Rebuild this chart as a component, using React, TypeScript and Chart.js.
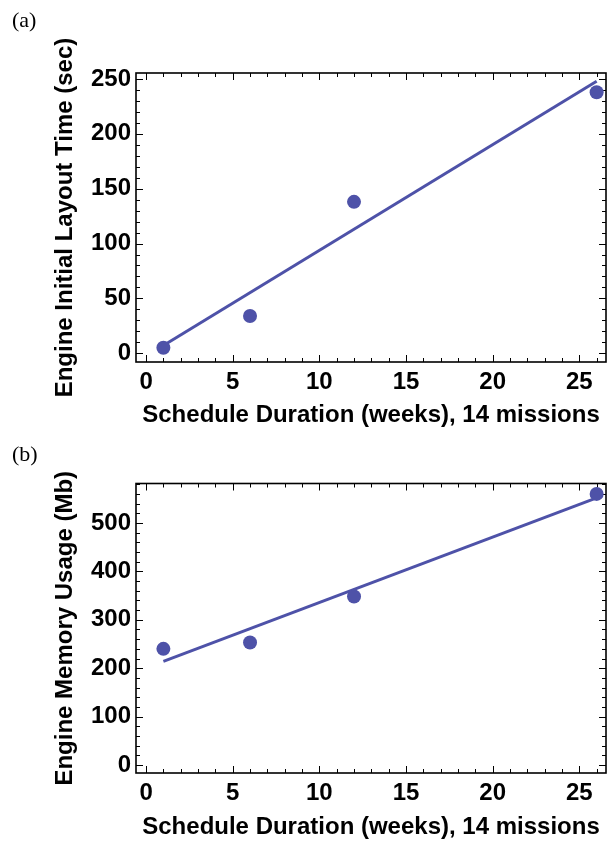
import React, { useEffect, useRef } from "react";
import { Chart, registerables } from "chart.js";

Chart.register(...registerables);

// ---- data ----
const weeks = [1, 6, 12, 26];
const layoutTimeSec = [5, 34, 138, 238];
const memoryMb = [240, 253, 348, 560];

const fitWeeks = [1, 26];
const layoutTimeFit = [7, 248];
const memoryFit = [214, 552];

// ---- axes ----
const xTickLabels = ["0", "5", "10", "15", "20", "25"];
const yTickLabelsA = ["0", "50", "100", "150", "200", "250"];
const yTickLabelsB = ["0", "100", "200", "300", "400", "500"];

const xRange = [-0.58, 26.54];
const yRangeA = [-8, 255.5];
const yRangeB = [-16.5, 581.5];

const xMinorStep = 1;
const yMinorStepA = 10;
const yMinorStepB = 20;

const xTitle = "Schedule Duration (weeks), 14 missions";
const yTitleA = "Engine Initial Layout Time (sec)";
const yTitleB = "Engine Memory Usage (Mb)";

const COLOR = "#4E52A8";
const FONT_FAMILY = "'Liberation Sans', Arial, Helvetica, sans-serif";

const frameTicks = {
  id: "frameTicks",
  beforeDatasetsDraw(chart: any, _args: any, opts: any) {
    const { ctx, chartArea } = chart;
    const { left, right, top, bottom } = chartArea;
    const xs = chart.scales.x;
    const ys = chart.scales.y;
    ctx.save();
    ctx.strokeStyle = "#000";
    ctx.lineWidth = 1;
    const isMajor = (v: number, majors: number[]) =>
      majors.some((m) => Math.abs(m - v) < 1e-6);
    const line = (x1: number, y1: number, x2: number, y2: number) => {
      ctx.beginPath();
      ctx.moveTo(x1, y1);
      ctx.lineTo(x2, y2);
      ctx.stroke();
    };
    const MAJ = 7;
    const MIN = 4;
    for (let v = Math.ceil(xs.min / opts.xStep) * opts.xStep; v <= xs.max + 1e-9; v += opts.xStep) {
      const px = Math.round(xs.getPixelForValue(v)) + 0.5;
      const len = isMajor(v, opts.xMajor) ? MAJ : MIN;
      line(px, bottom, px, bottom - len);
      line(px, top, px, top + len);
    }
    for (let v = Math.ceil(ys.min / opts.yStep) * opts.yStep; v <= ys.max + 1e-9; v += opts.yStep) {
      const py = Math.round(ys.getPixelForValue(v)) + 0.5;
      const len = isMajor(v, opts.yMajor) ? MAJ : MIN;
      line(left, py, left + len, py);
      line(right, py, right - len, py);
    }
    ctx.lineWidth = 1.6;
    ctx.strokeRect(left, top, right - left, bottom - top);
    ctx.restore();
  },
};

type PanelProps = {
  top: number;
  height: number;
  padTop: number;
  xAxisHeight: number;
  points: number[];
  fit: number[];
  yTicks: string[];
  yRange: number[];
  yStep: number;
  yTitle: string;
};

function Panel(p: PanelProps) {
  const ref = useRef<HTMLCanvasElement | null>(null);
  useEffect(() => {
    if (!ref.current) return;
    const tickFont = { family: FONT_FAMILY, weight: "bold" as const, size: 24 };
    const titleFont = { family: FONT_FAMILY, weight: "bold" as const, size: 24 };
    const chart = new Chart(ref.current, {
      type: "scatter",
      data: {
        datasets: [
          {
            data: weeks.map((x, i) => ({ x, y: p.points[i] })),
            backgroundColor: COLOR,
            borderColor: COLOR,
            pointRadius: 7,
            pointBorderWidth: 0,
            order: 0,
          },
          {
            data: fitWeeks.map((x, i) => ({ x, y: p.fit[i] })),
            showLine: true,
            borderColor: COLOR,
            borderWidth: 3,
            pointRadius: 0,
            fill: false,
            order: 1,
          } as any,
        ],
      },
      options: {
        animation: false,
        responsive: false,
        layout: { padding: { top: p.padTop, right: 10, left: 0, bottom: 0 } },
        plugins: {
          legend: { display: false },
          tooltip: { enabled: false },
          frameTicks: {
            xStep: xMinorStep,
            xMajor: xTickLabels.map(Number),
            yStep: p.yStep,
            yMajor: p.yTicks.map(Number),
          },
        } as any,
        scales: {
          x: {
            type: "linear",
            position: "bottom",
            min: xRange[0],
            max: xRange[1],
            afterBuildTicks: (s: any) => {
              s.ticks = xTickLabels.map((t) => ({ value: Number(t) }));
            },
            afterFit: (s: any) => {
              s.height = p.xAxisHeight;
            },
            ticks: {
              font: tickFont,
              color: "#000",
              padding: 6,
              maxRotation: 0,
              autoSkip: false,
              callback: (v: any) => String(v),
            },
            grid: { display: false, drawTicks: false },
            border: { display: false },
            title: {
              display: true,
              text: xTitle,
              font: titleFont,
              color: "#000",
              padding: { top: 0, bottom: 0 },
            },
          },
          y: {
            type: "linear",
            position: "left",
            min: p.yRange[0],
            max: p.yRange[1],
            afterBuildTicks: (s: any) => {
              s.ticks = p.yTicks.map((t) => ({ value: Number(t) }));
            },
            afterFit: (s: any) => {
              s.width = 136;
            },
            ticks: {
              font: tickFont,
              color: "#000",
              padding: 5,
              autoSkip: false,
              callback: (v: any) => String(v),
            },
            grid: { display: false, drawTicks: false },
            border: { display: false },
            title: {
              display: true,
              text: p.yTitle,
              font: titleFont,
              color: "#000",
              padding: { top: 51, bottom: 0 },
            },
          },
        },
      },
      plugins: [frameTicks],
    } as any);
    return () => chart.destroy();
  }, []);
  return (
    <canvas
      ref={ref}
      width={616}
      height={p.height}
      style={{ position: "absolute", left: 0, top: p.top, width: 616, height: p.height }}
    />
  );
}

const panelLabelStyle: React.CSSProperties = {
  position: "absolute",
  left: 12,
  fontFamily: "'Liberation Serif', 'Times New Roman', serif",
  fontSize: 22,
  lineHeight: 1,
  color: "#000",
};

export default function App() {
  return (
    <div
      style={{
        position: "absolute",
        left: 0,
        top: 0,
        width: 616,
        height: 842,
        background: "#fff",
        overflow: "hidden",
      }}
    >
      <Panel
        top={0}
        height={430}
        padTop={73}
        xAxisHeight={68}
        points={layoutTimeSec}
        fit={layoutTimeFit}
        yTicks={yTickLabelsA}
        yRange={yRangeA}
        yStep={yMinorStepA}
        yTitle={yTitleA}
      />
      <Panel
        top={420}
        height={422}
        padTop={63.5}
        xAxisHeight={69}
        points={memoryMb}
        fit={memoryFit}
        yTicks={yTickLabelsB}
        yRange={yRangeB}
        yStep={yMinorStepB}
        yTitle={yTitleB}
      />
      <div style={{ ...panelLabelStyle, top: 9 }}>(a)</div>
      <div style={{ ...panelLabelStyle, top: 443 }}>(b)</div>
    </div>
  );
}
